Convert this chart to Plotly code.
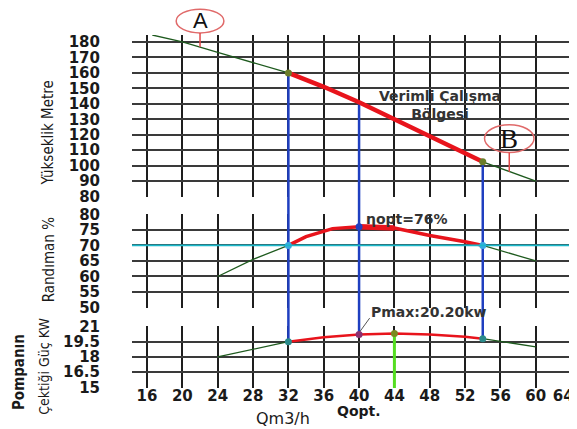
import plotly.graph_objects as go

# ---------------- data ----------------
X_TICKS = [16, 20, 24, 28, 32, 36, 40, 44, 48, 52, 56, 60, 64]
X_TICK_TEXT = ["16", "20", "24", "28", "32", "36", "40", "44", "48", "52", "56", "60",
               "64\u00a0\u00a0\u00a0"]
H_TICKS = [80, 90, 100, 110, 120, 130, 140, 150, 160, 170, 180]
ETA_TICKS = [50, 55, 60, 65, 70, 75, 80]
P_TICKS = [15, 16.5, 18, 19.5, 21]
P_TICK_TEXT = ["15", "16.5", "18", "19.5", "21"]

Q_H_LEFT = [16.6, 20, 24, 28, 32]
H_LEFT = [184.5, 180, 173.3, 166.7, 160]
Q_H_BEST = [32, 36, 40, 44, 48, 52, 54]
H_BEST = [160, 151, 141, 130, 119, 108, 102.5]
Q_H_RIGHT = [54, 60]
H_RIGHT = [102.5, 90]

Q_ETA_LEFT = [24, 28, 32]
ETA_LEFT = [60, 65.5, 70]
Q_ETA_BEST = [32, 34, 37, 40, 44, 48, 52, 54]
ETA_BEST = [70, 72.8, 75.4, 76, 75.6, 73.2, 71.2, 70]
Q_ETA_PEAK = [40, 44]
ETA_PEAK = [76, 75.6]
Q_ETA_RIGHT = [54, 60]
ETA_RIGHT = [70, 65]
ETA_LIMIT = 70

Q_P_LEFT = [24, 32]
P_LEFT = [18, 19.5]
Q_P_BEST = [32, 36, 40, 44, 48, 52, 54]
P_BEST = [19.5, 19.95, 20.2, 20.3, 20.2, 20.0, 19.8]
Q_P_RIGHT = [54, 60]
P_RIGHT = [19.8, 19.0]

Q_OP = [32, 40, 54]
H_OP = [160, 141, 102.5]
ETA_OP = [70, 76, 70]
P_OP = [19.5, 20.2, 19.8]
Q_PMAX = 44
P_MAX = 20.3

# ---------------- layout constants ----------------
X_RANGE = [14.3, 64.1]
H_RANGE = [79.7, 184.5]
ETA_RANGE = [49.85, 80.1]
P_RANGE = [14.93, 21.05]
DOM_H = [0.541, 1.0]
DOM_ETA = [0.2266, 0.4929]
DOM_P = [0.0, 0.1756]

GREEN = "#1e5a1e"
RED = "#e8141c"
BLUE = "#1f3fc0"
CYAN = "#1ab8c9"
LIME = "#55dd22"

fig = go.Figure()

def line(x, y, color, width, xa="x", ya="y"):
    fig.add_trace(go.Scatter(x=x, y=y, mode="lines", xaxis=xa, yaxis=ya,
                             line=dict(color=color, width=width),
                             hoverinfo="skip", showlegend=False))

def pts(x, y, colors, xa="x", ya="y", size=7):
    fig.add_trace(go.Scatter(x=x, y=y, mode="markers", xaxis=xa, yaxis=ya,
                             marker=dict(color=colors, size=size),
                             hoverinfo="skip", showlegend=False))

# blue verticals (operating points)
for q, h, p in zip(Q_OP, H_OP, P_OP):
    line([q, q], [h, H_RANGE[0]], BLUE, 2.5, "x", "y")
    line([q, q], ETA_RANGE, BLUE, 2.5, "x2", "y2")
    line([q, q], [P_RANGE[1], p], BLUE, 2.5, "x3", "y3")

# green vertical at max power
line([Q_PMAX, Q_PMAX], [P_MAX, P_RANGE[0]], LIME, 3, "x3", "y3")

# head curve
line(Q_H_LEFT, H_LEFT, GREEN, 1.3)
line(Q_H_RIGHT, H_RIGHT, GREEN, 1.3)
line(Q_H_BEST, H_BEST, RED, 4.5)

# efficiency curve
line(Q_ETA_LEFT, ETA_LEFT, GREEN, 1.3, "x2", "y2")
line(Q_ETA_RIGHT, ETA_RIGHT, GREEN, 1.3, "x2", "y2")
line(Q_ETA_BEST, ETA_BEST, RED, 3.5, "x2", "y2")
line(Q_ETA_PEAK, ETA_PEAK, RED, 5.5, "x2", "y2")

# power curve
line(Q_P_LEFT, P_LEFT, GREEN, 1.3, "x3", "y3")
line(Q_P_RIGHT, P_RIGHT, GREEN, 1.3, "x3", "y3")
line(Q_P_BEST, P_BEST, RED, 2.5, "x3", "y3")

# markers
pts([Q_OP[0], Q_OP[2]], [H_OP[0], H_OP[2]], "#6b7d2a")
pts(Q_OP, ETA_OP, ["#38a8e0", "#2040c0", "#38a8e0"], "x2", "y2")
pts(Q_OP, P_OP, ["#2a8a8a", "#8a3070", "#2a8a8a"], "x3", "y3")
pts([Q_PMAX], [P_MAX], "#7a8a20", "x3", "y3")

# ---------------- axes ----------------
tickfont = dict(family="DejaVu Sans", size=15, color="#1a1a1a", weight="bold")

def xaxis(show, anchor):
    return dict(range=X_RANGE, domain=[0, 1], tickmode="array", tickvals=X_TICKS,
                ticktext=X_TICK_TEXT,
                showgrid=True, gridcolor="#1e1e1e", gridwidth=2, zeroline=False,
                showline=False, anchor=anchor, showticklabels=show,
                tickfont=tickfont, ticks="", ticklabelstandoff=-3,
                ticklabeloverflow="allow", automargin=False, fixedrange=True)

def yaxis(rng, dom, vals, anchor, text=None):
    d = dict(range=rng, domain=dom, tickmode="array", tickvals=vals,
             showgrid=True, gridcolor="#3a3a3a", gridwidth=1.8, zeroline=False,
             showline=False, tickfont=tickfont, ticks="outside", ticklen=28,
             tickcolor="rgba(0,0,0,0)", fixedrange=True, anchor=anchor,
             automargin=False)
    if text is not None:
        d["ticktext"] = text
    return d

# page body has an 8px margin; figure is sized to fill the rest of the window
fig.update_layout(
    width=569, height=421,
    margin=dict(l=124, r=5, t=27, b=41, autoexpand=False),
    paper_bgcolor="white", plot_bgcolor="white",
    font=dict(family="DejaVu Sans", color="#1a1a1a"),
    xaxis=xaxis(False, "y"),
    xaxis2=xaxis(False, "y2"),
    xaxis3=xaxis(True, "y3"),
    yaxis=yaxis(H_RANGE, DOM_H, H_TICKS, "x"),
    yaxis2=yaxis(ETA_RANGE, DOM_ETA, ETA_TICKS, "x2"),
    yaxis3=yaxis(P_RANGE, DOM_P, P_TICKS, "x3", P_TICK_TEXT),
)

shapes = []
# blue verticals across the gaps between panels
for q in Q_OP:
    shapes.append(dict(type="line", xref="x", yref="paper", x0=q, x1=q,
                       y0=DOM_ETA[1], y1=DOM_H[0], line=dict(color=BLUE, width=2.5)))
    shapes.append(dict(type="line", xref="x", yref="paper", x0=q, x1=q,
                       y0=DOM_P[1], y1=DOM_ETA[0], line=dict(color=BLUE, width=2.5)))
# efficiency limit line
shapes.append(dict(type="line", xref="x2 domain", yref="y2", x0=0, x1=1,
                   y0=ETA_LIMIT, y1=ETA_LIMIT, line=dict(color=CYAN, width=1.6),
                   layer="above"))
# A marker
shapes.append(dict(type="circle", xref="x", yref="paper", x0=19.3, x1=24.7,
                   y0=1.006, y1=1.073, line=dict(color="#e06a6a", width=1.5)))
shapes.append(dict(type="line", xref="x", yref="paper", x0=22, x1=22,
                   y0=1.006, y1=0.966, line=dict(color="#e04848", width=1.5)))
# B marker
shapes.append(dict(type="circle", xref="x", yref="y", x0=54.2, x1=59.8,
                   y0=108.5, y1=126.5, line=dict(color="#e06a6a", width=1.5)))
shapes.append(dict(type="line", xref="x", yref="y", x0=57, x1=57,
                   y0=108.5, y1=96.0, line=dict(color="#e04848", width=1.5)))
# Pmax pointer
shapes.append(dict(type="line", xref="x3", yref="paper", x0=41.2, x1=40.1,
                   y0=0.198, y1=0.16, line=dict(color="#555555", width=1)))
fig.update_layout(shapes=shapes)

title_font = dict(family="Liberation Sans Narrow, DejaVu Sans Condensed, sans-serif",
                  size=15, color="#1a1a1a")
ann = [
    dict(text="Yükseklik Metre", x=-0.19, y=0.722, textangle=-90, font=title_font),
    dict(text="Randıman %", x=-0.19, y=0.363, textangle=-90, font=title_font),
    dict(text="<b>Pompanın</b>", x=-0.257, y=0.045, textangle=-90,
         font=dict(title_font, size=15)),
    dict(text="Çektiği Güç KW", x=-0.2, y=0.06, textangle=-90,
         font=dict(title_font, size=14)),
    dict(text="Qm3/h", x=0.343, y=-0.087,
         font=dict(family="DejaVu Sans", size=16, color="#1a1a1a")),
    dict(text="<b>Qopt.</b>", x=0.516, y=-0.064,
         font=dict(family="DejaVu Sans", size=14, color="#1a1a1a")),
    dict(text="A", x=0.155, y=1.04,
         font=dict(family="Liberation Sans", size=22, color="#111111")),
]
for a in ann:
    a.update(xref="paper", yref="paper", showarrow=False,
             xanchor="center", yanchor="middle")
fig.add_annotation(text="B", x=57, y=117.5, xref="x", yref="y", showarrow=False,
                   font=dict(family="Liberation Serif", size=27, color="#111111"))
fig.add_annotation(text="<b>Verimli Çalışma<br>Bölgesi</b>", x=49.2, y=139.4,
                   xref="x", yref="y", showarrow=False,
                   font=dict(family="DejaVu Sans", size=14, color="#333333"))
fig.add_annotation(text="<b>ηopt=76%</b>", x=45.4, y=78.4, xref="x2", yref="y2",
                   showarrow=False,
                   font=dict(family="DejaVu Sans", size=14, color="#333333"))
fig.add_annotation(text="<b>Pmax:20.20kw</b>", x=47.95, y=0.187, xref="x3",
                   yref="paper", showarrow=False,
                   font=dict(family="DejaVu Sans", size=14, color="#333333"))
for a in ann:
    fig.add_annotation(**a)

fig.write_html("out.html")
